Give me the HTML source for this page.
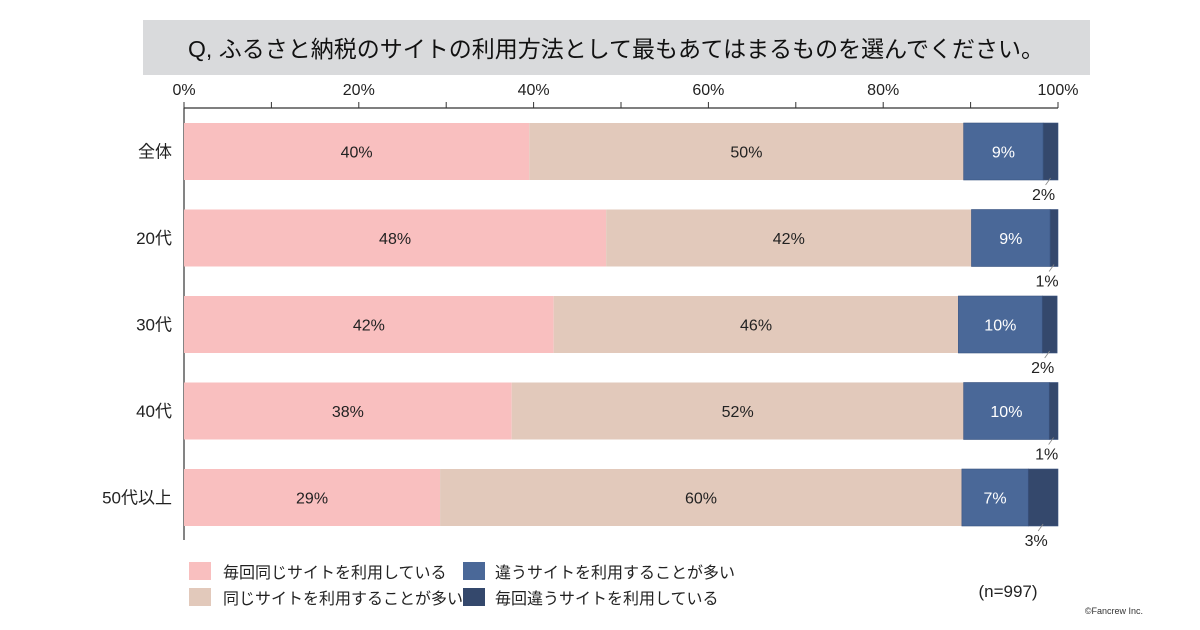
<!DOCTYPE html>
<html><head><meta charset="utf-8">
<style>
body{margin:0;background:#fff;}
svg{display:block;font-family:"Liberation Sans","Noto Sans CJK JP",sans-serif;}
</style></head>
<body>
<svg id="chart" width="1200" height="630" viewBox="0 0 1200 630">
<rect x="143" y="20" width="947" height="55" fill="#d9dadc"/>
<text x="616" y="57" text-anchor="middle" font-size="23" fill="#111">Q, ふるさと納税のサイトの利用方法として最もあてはまるものを選んでください。</text>
<g id="axis"></g>
<g id="bars"></g>
<g font-size="16" fill="#222">
<rect x="189" y="562" width="22" height="18" fill="#f9bfbf"/>
<text x="223" y="578">毎回同じサイトを利用している</text>
<rect x="189" y="588" width="22" height="18" fill="#e2c9bb"/>
<text x="223" y="604">同じサイトを利用することが多い</text>
<rect x="463" y="562" width="22" height="18" fill="#4a6898"/>
<text x="495" y="578">違うサイトを利用することが多い</text>
<rect x="463" y="588" width="22" height="18" fill="#34486c"/>
<text x="495" y="604">毎回違うサイトを利用している</text>
</g>
<text x="1008" y="597" text-anchor="middle" font-size="17" fill="#222">(n=997)</text>
<text x="1143" y="614" text-anchor="end" font-size="9" fill="#333">©Fancrew Inc.</text>
</svg>
<script>
const categories = ["全体","20代","30代","40代","50代以上"];
const sameEvery = [39.5,48.3,42.3,37.5,29.3];
const sameOften = [49.7,41.8,46.3,51.7,59.7];
const diffOften = [9.1,9.0,9.6,9.8,7.6];
const diffEvery = [1.7,0.9,1.7,1.0,3.4];
const labelSameEvery = ["40%","48%","42%","38%","29%"];
const labelSameOften = ["50%","42%","46%","52%","60%"];
const labelDiffOften = ["9%","9%","10%","10%","7%"];
const labelDiffEvery = ["2%","1%","2%","1%","3%"];
const tickValues = [0,20,40,60,80,100];

const NS="http://www.w3.org/2000/svg";
const x0=184,x1=1058;
function xs(v){return x0+(x1-x0)*v/100;}
function ys(i){return 123+i*86.5;}
const barH=57;
function mk(tag,attrs,parent,text){const e=document.createElementNS(NS,tag);for(const k in attrs)e.setAttribute(k,attrs[k]);if(text!=null)e.textContent=text;parent.appendChild(e);return e;}
const axis=document.getElementById('axis'), bars=document.getElementById('bars');
let l=mk('line',{x1:x0,y1:108,x2:x1,y2:108,stroke:'#333','stroke-width':1.2},axis);


l=mk('line',{x1:x0,y1:108,x2:x0,y2:540,stroke:'#333','stroke-width':1.2},axis);


for(let v=0;v<=100;v+=10){
  const t=mk('line',{x1:xs(v),y1:102,x2:xs(v),y2:108,stroke:'#333','stroke-width':1},axis);
  
  
}
tickValues.forEach(v=>{
  const t=mk('text',{x:xs(v),y:95,'text-anchor':'middle','font-size':16,fill:'#222'},axis,v+'%');
  
  
});
const series=[[sameEvery,'#f9bfbf',labelSameEvery,'#222'],[sameOften,'#e2c9bb',labelSameOften,'#222'],[diffOften,'#4a6898',labelDiffOften,'#fff'],[diffEvery,'#34486c',null,null]];
categories.forEach((c,i)=>{
  const y=ys(i);
  const ct=mk('text',{x:172,y:y+barH/2+6,'text-anchor':'end','font-size':17,fill:'#222'},bars,c);
  
  
  let acc=0;
  series.forEach((s,k)=>{
    const v=s[0][i];
    const r=mk('rect',{x:xs(acc),y:y,width:xs(acc+v)-xs(acc),height:barH,fill:s[1],stroke:k>=2?'#3a5480':'none','stroke-width':0.6},bars);
    
    
    if(s[2]){
      const t=mk('text',{x:xs(acc+v/2),y:y+barH/2+6,'text-anchor':'middle','font-size':16,fill:s[3]},bars,s[2][i]);
      
      
    }else{
      const cx=xs(acc+v/2);
      const ln=mk('line',{x1:cx,y1:y+barH-2,x2:cx-5,y2:y+barH+5,stroke:'#888','stroke-width':0.8},bars);
      
      
      const t=mk('text',{x:cx-7,y:y+barH+20,'text-anchor':'middle','font-size':16,fill:'#222'},bars,labelDiffEvery[i]);
      
      
    }
    acc+=v;
  });
});
</script>
</body></html>
